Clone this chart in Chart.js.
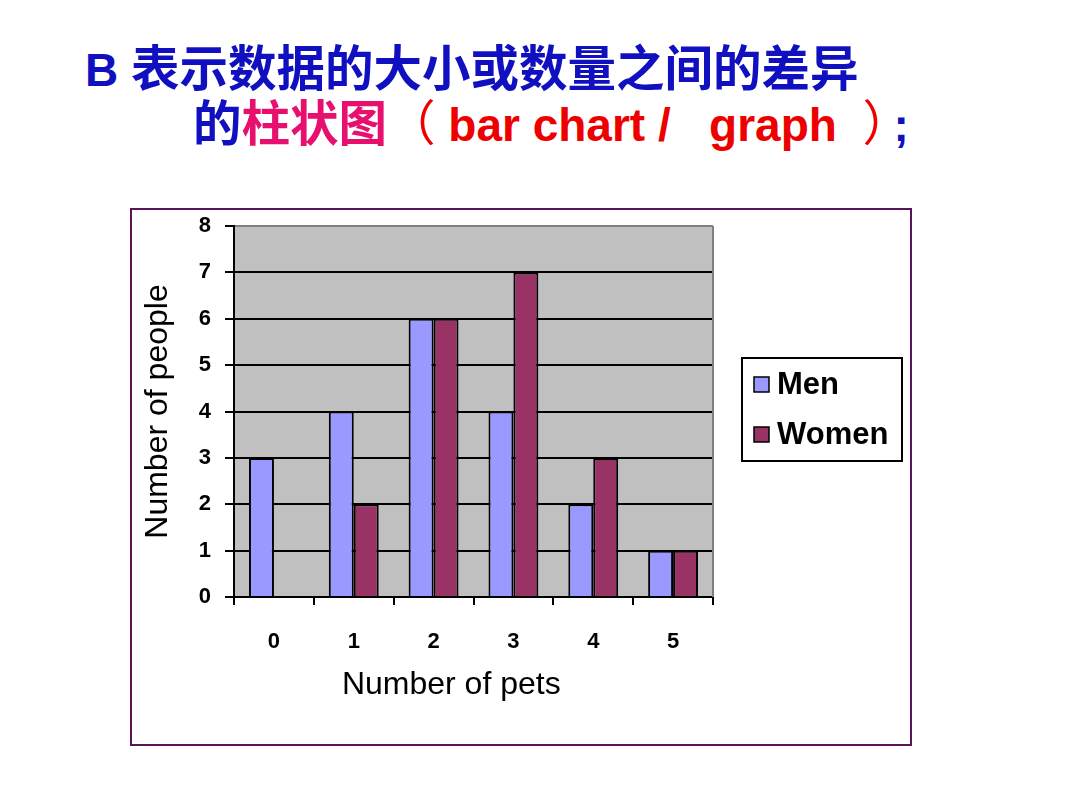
<!DOCTYPE html>
<html>
<head>
<meta charset="utf-8">
<script src="https://cdn.jsdelivr.net/npm/chart.js@4.4.1/dist/chart.umd.min.js"></script>
<style>
  body { margin: 0; background: #fff; width: 1080px; height: 810px; position: relative; overflow: hidden; }
  .line { position: absolute; white-space: pre; font-weight: bold; line-height: 60px; }
  .cjk { font-family: "Noto Sans CJK SC", sans-serif; font-size: 48.5px; }
  .lat { font-family: "Liberation Sans", Arial, sans-serif; font-size: 46px; }
  .thin { font-weight: normal; }
  .blue { color: #1010c0; }
  .pink { color: #e8106e; }
  .red { color: #ee0000; }
  #box { position: absolute; left: 130px; top: 208px; width: 782px; height: 538px;
         border: 2px solid #5a145a; box-sizing: border-box; }
  #box canvas { display: block; }
</style>
</head>
<body>
<div class="line blue" style="left:85px; top:35px;"><span class="lat">B </span><span class="cjk">表示数据的大小或数量之间的差异</span></div>
<div class="line" style="left:193px; top:90px;"><span class="cjk blue">的</span><span class="cjk pink">柱状图</span><span class="cjk red thin">（</span><span class="lat red"> bar chart /   graph  </span><span class="cjk red thin" style="display:inline-block;width:31px;">）</span><span class="lat blue">;</span></div>

<div id="box"><canvas id="grafico" width="778" height="534"></canvas></div>

<script>
// datos
const mascotas = ['0', '1', '2', '3', '4', '5']
const hombres = [3, 4, 6, 4, 2, 1]
const mujeres = [0, 2, 6, 7, 3, 1]

const fondoArea = {
  id: 'fondoArea',
  beforeDraw(chart) {
    const { ctx, chartArea: a } = chart
    ctx.save()
    ctx.fillStyle = '#c0c0c0'
    ctx.fillRect(a.left, a.top, a.right - a.left, a.bottom - a.top)
    ctx.restore()
  },
  beforeDatasetsDraw(chart) {
    const { ctx, chartArea: a } = chart
    ctx.save()
    ctx.strokeStyle = '#808080'
    ctx.lineWidth = 2
    ctx.beginPath()
    ctx.moveTo(a.right, a.top)
    ctx.lineTo(a.right, a.bottom)
    ctx.stroke()
    ctx.restore()
  }
}

// leyenda con recuadro, a la derecha del area
const leyenda = {
  id: 'leyenda',
  afterDraw(chart) {
    const { ctx, chartArea: a } = chart
    const x = a.right + 29
    const y = 148
    ctx.save()
    ctx.fillStyle = '#fff'
    ctx.fillRect(x, y, 160, 103)
    ctx.strokeStyle = '#000'
    ctx.lineWidth = 2
    ctx.strokeRect(x, y, 160, 103)
    ctx.font = 'bold 31px "Liberation Sans", Arial, sans-serif'
    ctx.textBaseline = 'middle'
    chart.data.datasets.forEach((ds, i) => {
      const yy = y + 26 + i * 50
      ctx.fillStyle = ds.backgroundColor
      ctx.fillRect(x + 12, yy - 7, 15, 15)
      ctx.lineWidth = 1.5
      ctx.strokeRect(x + 12, yy - 7, 15, 15)
      ctx.fillStyle = '#000'
      ctx.fillText(ds.label, x + 35, yy + 1)
    })
    ctx.restore()
  }
}

const barras = document.getElementById('grafico')

new Chart(barras, {
  type: 'bar',
  data: {
    labels: mascotas,
    datasets: [
      { label: 'Men', data: hombres, backgroundColor: '#9999ff', borderColor: '#000', borderWidth: 2 },
      { label: 'Women', data: mujeres, backgroundColor: '#993366', borderColor: '#000', borderWidth: 2 },
    ],
  },
  options: {
    responsive: false,
    animation: false,
    layout: { padding: { top: 16, right: 197, bottom: 40, left: 0 } },
    datasets: { bar: { categoryPercentage: 0.625, barPercentage: 1.0 } },
    plugins: { legend: { display: false }, tooltip: { enabled: false } },
    scales: {
      x: {
        afterFit: (s) => { s.height = 107 },
        grid: { display: true, drawOnChartArea: false, drawTicks: true, tickLength: 8, color: '#000', lineWidth: 2 },
        border: { display: true, color: '#000', width: 2 },
        ticks: { color: '#000', padding: 24, font: { family: '"Liberation Sans", Arial, sans-serif', size: 22, weight: 'bold' } },
        // espacios al final: el titulo queda algo a la izquierda como en el original
        title: { display: true, text: 'Number of pets     ', color: '#000', padding: 0,
                 font: { family: '"Liberation Sans", Arial, sans-serif', size: 32 } },
      },
      y: {
        min: 0,
        max: 8,
        afterFit: (s) => { s.width = 102; s.paddingTop = 0; s.paddingBottom = 0 },
        grid: {
          color: (c) => (c.tick && c.tick.value === 8 ? '#808080' : '#000'),
          tickColor: '#000',
          lineWidth: 2,
          tickLength: 9,
        },
        border: { display: true, color: '#000', width: 2 },
        ticks: { stepSize: 1, color: '#000', padding: 14, font: { family: '"Liberation Sans", Arial, sans-serif', size: 22, weight: 'bold' } },
        title: { display: true, text: 'Number of people', color: '#000', padding: { top: 7, bottom: 0 },
                 font: { family: '"Liberation Sans", Arial, sans-serif', size: 32 } },
      },
    },
  },
  plugins: [fondoArea, leyenda],
})
</script>
</body>
</html>
